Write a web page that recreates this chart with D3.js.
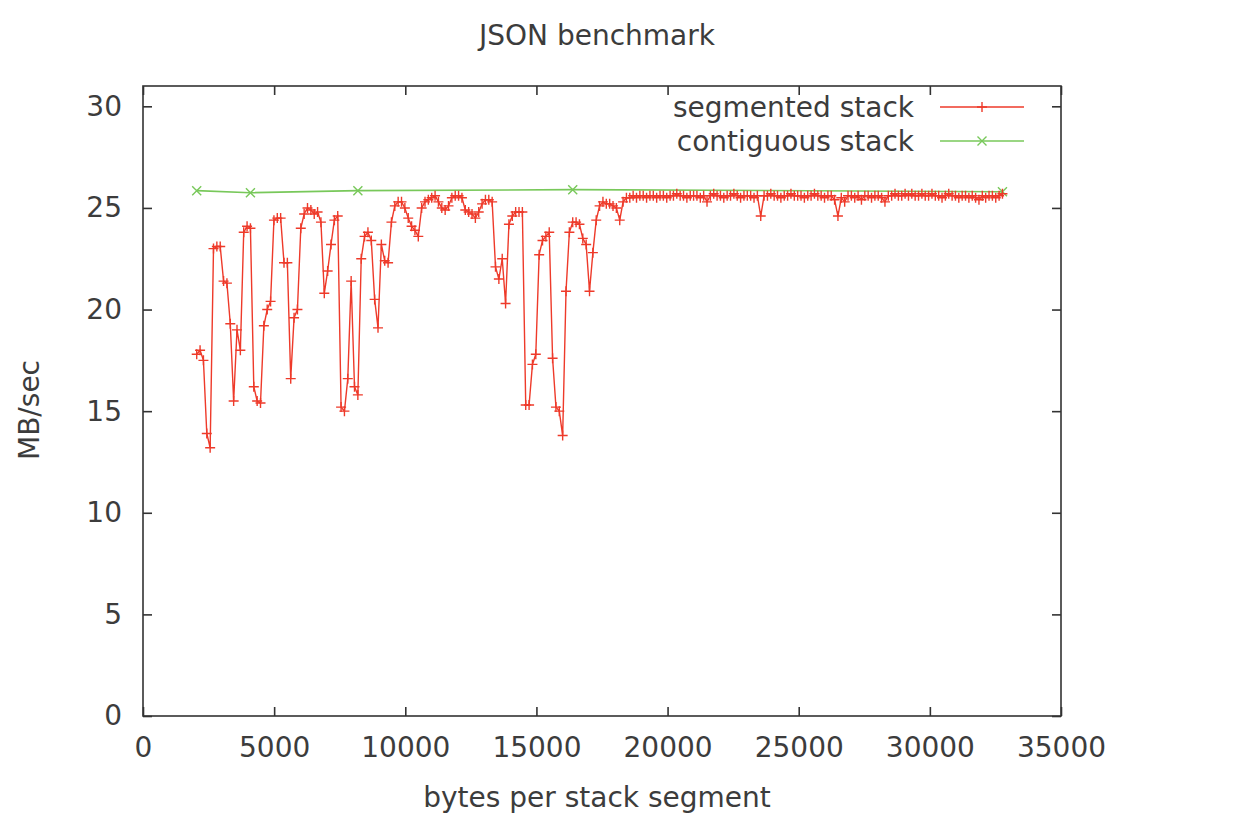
<!DOCTYPE html>
<html>
<head>
<meta charset="utf-8">
<script src="https://cdn.jsdelivr.net/npm/d3@7"></script>
<style>
  body { margin: 0; background: #fff; }
  text { font-family: "DejaVu Sans", sans-serif; fill: #3c3c3c; }
</style>
</head>
<body>
<svg id="canvas"></svg>
<script>
// sizes of one stack segment (bytes) for the segmented run
var segBytes = [
    2048, 2176, 2304, 2432, 2560, 2688, 2816, 2944,
    3072, 3200, 3328, 3456, 3584, 3712, 3840, 3968,
    4096, 4224, 4352, 4480, 4608, 4736, 4864, 4992,
    5120, 5248, 5376, 5504, 5632, 5760, 5888, 6016,
    6144, 6272, 6400, 6528, 6656, 6784, 6912, 7040,
    7168, 7296, 7424, 7552, 7680, 7808, 7936, 8064,
    8192, 8320, 8448, 8576, 8704, 8832, 8960, 9088,
    9216, 9344, 9472, 9600, 9728, 9856, 9984, 10112,
    10240, 10368, 10496, 10624, 10752, 10880, 11008, 11136,
    11264, 11392, 11520, 11648, 11776, 11904, 12032, 12160,
    12288, 12416, 12544, 12672, 12800, 12928, 13056, 13184,
    13312, 13440, 13568, 13696, 13824, 13952, 14080, 14208,
    14336, 14464, 14592, 14720, 14848, 14976, 15104, 15232,
    15360, 15488, 15616, 15744, 15872, 16000, 16128, 16256,
    16384, 16512, 16640, 16768, 16896, 17024, 17152, 17280,
    17408, 17536, 17664, 17792, 17920, 18048, 18176, 18304,
    18432, 18560, 18688, 18816, 18944, 19072, 19200, 19328,
    19456, 19584, 19712, 19840, 19968, 20096, 20224, 20352,
    20480, 20608, 20736, 20864, 20992, 21120, 21248, 21376,
    21504, 21632, 21760, 21888, 22016, 22144, 22272, 22400,
    22528, 22656, 22784, 22912, 23040, 23168, 23296, 23424,
    23552, 23680, 23808, 23936, 24064, 24192, 24320, 24448,
    24576, 24704, 24832, 24960, 25088, 25216, 25344, 25472,
    25600, 25728, 25856, 25984, 26112, 26240, 26368, 26496,
    26624, 26752, 26880, 27008, 27136, 27264, 27392, 27520,
    27648, 27776, 27904, 28032, 28160, 28288, 28416, 28544,
    28672, 28800, 28928, 29056, 29184, 29312, 29440, 29568,
    29696, 29824, 29952, 30080, 30208, 30336, 30464, 30592,
    30720, 30848, 30976, 31104, 31232, 31360, 31488, 31616,
    31744, 31872, 32000, 32128, 32256, 32384, 32512, 32640,
    32768
];

// MB/sec for the segmented stack
var segRate = [
    17.8, 18.0, 17.5, 13.9, 13.2, 23.0, 23.1, 23.1,
    21.4, 21.3, 19.3, 15.5, 19.0, 18.0, 23.8, 24.1,
    24.0, 16.2, 15.5, 15.4, 19.2, 20.0, 20.4, 24.4,
    24.5, 24.5, 22.3, 22.3, 16.6, 19.6, 20.0, 24.0,
    24.7, 25.0, 24.9, 24.7, 24.8, 24.3, 20.8, 21.9,
    23.2, 24.4, 24.6, 15.2, 15.0, 16.6, 21.4, 16.2,
    15.8, 22.5, 23.6, 23.8, 23.4, 20.5, 19.1, 23.2,
    22.4, 22.3, 24.3, 25.1, 25.3, 25.3, 25.0, 24.5,
    24.1, 23.9, 23.6, 25.0, 25.3, 25.4, 25.5, 25.6,
    25.3, 25.0, 24.9, 25.1, 25.5, 25.6, 25.6, 25.5,
    24.9, 24.8, 24.7, 24.5, 24.8, 25.2, 25.4, 25.4,
    25.3, 22.1, 21.5, 22.5, 20.3, 24.2, 24.6, 24.8,
    24.8, 24.8, 15.3, 15.3, 17.3, 17.8, 22.7, 23.4,
    23.6, 23.8, 17.6, 15.2, 15.0, 13.8, 20.9, 23.8,
    24.3, 24.3, 24.2, 23.5, 23.2, 20.9, 22.8, 24.4,
    25.1, 25.3, 25.2, 25.2, 25.1, 25.0, 24.4, 25.3,
    25.5, 25.5, 25.6, 25.5, 25.6, 25.6, 25.5, 25.6,
    25.6, 25.5, 25.6, 25.6, 25.5, 25.6, 25.6, 25.7,
    25.6, 25.6, 25.5, 25.6, 25.6, 25.6, 25.5, 25.6,
    25.3, 25.6, 25.7, 25.6, 25.6, 25.5, 25.6, 25.6,
    25.7, 25.6, 25.5, 25.6, 25.6, 25.6, 25.5, 25.6,
    24.6, 25.6, 25.6, 25.7, 25.6, 25.6, 25.5, 25.6,
    25.6, 25.7, 25.6, 25.6, 25.6, 25.5, 25.6, 25.6,
    25.7, 25.6, 25.6, 25.5, 25.6, 25.6, 25.4, 24.6,
    25.5, 25.3, 25.6, 25.6, 25.5, 25.6, 25.4, 25.6,
    25.6, 25.5, 25.6, 25.6, 25.5, 25.3, 25.6, 25.6,
    25.7, 25.6, 25.6, 25.7, 25.6, 25.7, 25.6, 25.6,
    25.7, 25.6, 25.6, 25.7, 25.6, 25.6, 25.5, 25.6,
    25.7, 25.6, 25.6, 25.5, 25.6, 25.6, 25.5, 25.6,
    25.5, 25.4, 25.6, 25.5, 25.6, 25.6, 25.5, 25.6,
    25.7
];

// contiguous stack: one run per initial stack size
var contBytes = [2048, 4096, 8192, 16384, 32768];
var contRate = [25.85, 25.75, 25.85, 25.9, 25.8];

var xTicks = [0, 5000, 10000, 15000, 20000, 25000, 30000, 35000];
var yTicks = [0, 5, 10, 15, 20, 25, 30];

var seriesNames = ["segmented stack", "contiguous stack"];
var seriesColors = ["#ee3a2a", "#78c85a"];

var width = 1240, height = 815;
var margin = {top: 86, right: 179, bottom: 99, left: 143};
var w = width - margin.left - margin.right,
    h = height - margin.top - margin.bottom;
var fontSize = "28px";

var svg = d3.select("#canvas")
    .attr("width", width)
    .attr("height", height);

svg.append("rect").attr("width", width).attr("height", height).attr("fill", "#fff");

var g = svg.append("g")
    .attr("transform", "translate(" + margin.left + "," + margin.top + ")");

var x = d3.scaleLinear().domain([0, 35000]).range([0, w]);
var y = d3.scaleLinear().domain([0, 31]).range([h, 0]);

var tickLen = 9;

// axes, ticks pointing inward on all four sides
var xAxis = g.append("g")
    .attr("transform", "translate(0," + h + ")")
    .call(d3.axisBottom(x).tickValues(xTicks).tickSize(-tickLen).tickPadding(21).tickFormat(d3.format("d")));
var yAxis = g.append("g")
    .call(d3.axisLeft(y).tickValues(yTicks).tickSize(-tickLen).tickPadding(21));
var xTop = g.append("g")
    .call(d3.axisTop(x).tickValues(xTicks).tickSize(-tickLen).tickFormat(""));
var yRight = g.append("g")
    .attr("transform", "translate(" + w + ",0)")
    .call(d3.axisRight(y).tickValues(yTicks).tickSize(-tickLen).tickFormat(""));

[xAxis, yAxis, xTop, yRight].forEach(function(a) {
    a.select(".domain").remove();
    a.selectAll("line").attr("stroke", "#333").attr("stroke-width", 1.6);
    a.selectAll("text").style("font-size", fontSize).attr("fill", "#3c3c3c");
});

// frame
g.append("rect")
    .attr("width", w)
    .attr("height", h)
    .attr("fill", "none")
    .attr("stroke", "#333")
    .attr("stroke-width", 1.6);

var segData = segBytes.map(function(b, i) { return {b: b, v: segRate[i]}; });
var contData = contBytes.map(function(b, i) { return {b: b, v: contRate[i]}; });

var line = d3.line()
    .x(function(d) { return x(d.b); })
    .y(function(d) { return y(d.v); });

var plus = "M-5,0H5M0,-5V5";
var cross = "M-4.5,-4.5L4.5,4.5M-4.5,4.5L4.5,-4.5";

// contiguous stack (drawn first, red on top)
g.append("path")
    .datum(contData)
    .attr("d", line)
    .attr("fill", "none")
    .attr("stroke", seriesColors[1])
    .attr("stroke-width", 1.6);

g.selectAll(".cmark")
    .data(contData)
    .enter().append("path")
    .attr("class", "cmark")
    .attr("d", cross)
    .attr("transform", function(d) { return "translate(" + x(d.b) + "," + y(d.v) + ")"; })
    .attr("stroke", seriesColors[1])
    .attr("stroke-width", 1.4)
    .attr("fill", "none");

g.append("path")
    .datum(segData)
    .attr("d", line)
    .attr("fill", "none")
    .attr("stroke", seriesColors[0])
    .attr("stroke-width", 1.4);

g.selectAll(".smark")
    .data(segData)
    .enter().append("path")
    .attr("class", "smark")
    .attr("d", plus)
    .attr("transform", function(d) { return "translate(" + x(d.b) + "," + y(d.v) + ")"; })
    .attr("stroke", seriesColors[0])
    .attr("stroke-width", 1.4)
    .attr("fill", "none");

// legend, top right inside the frame
var legend = svg.append("g");
var markers = [plus, cross];
for (var i = 0; i < seriesNames.length; i++) {
    var ly = 107 + i * 34;
    legend.append("text")
        .attr("x", 914)
        .attr("y", ly)
        .attr("dy", "0.35em")
        .attr("text-anchor", "end")
        .style("font-size", fontSize)
        .text(seriesNames[i]);
    legend.append("line")
        .attr("x1", 940).attr("x2", 1024)
        .attr("y1", ly).attr("y2", ly)
        .attr("stroke", seriesColors[i])
        .attr("stroke-width", 1.6);
    legend.append("path")
        .attr("d", markers[i])
        .attr("transform", "translate(982," + ly + ")")
        .attr("stroke", seriesColors[i])
        .attr("stroke-width", 1.4)
        .attr("fill", "none");
}

// title and axis labels
svg.append("text")
    .attr("x", 597).attr("y", 35)
    .attr("dy", "0.35em")
    .attr("text-anchor", "middle")
    .style("font-size", fontSize)
    .text("JSON benchmark");

svg.append("text")
    .attr("x", 597).attr("y", 797)
    .attr("dy", "0.35em")
    .attr("text-anchor", "middle")
    .style("font-size", fontSize)
    .text("bytes per stack segment");

svg.append("text")
    .attr("transform", "translate(29,410) rotate(-90)")
    .attr("dy", "0.35em")
    .attr("text-anchor", "middle")
    .style("font-size", fontSize)
    .text("MB/sec");
</script>
</body>
</html>
